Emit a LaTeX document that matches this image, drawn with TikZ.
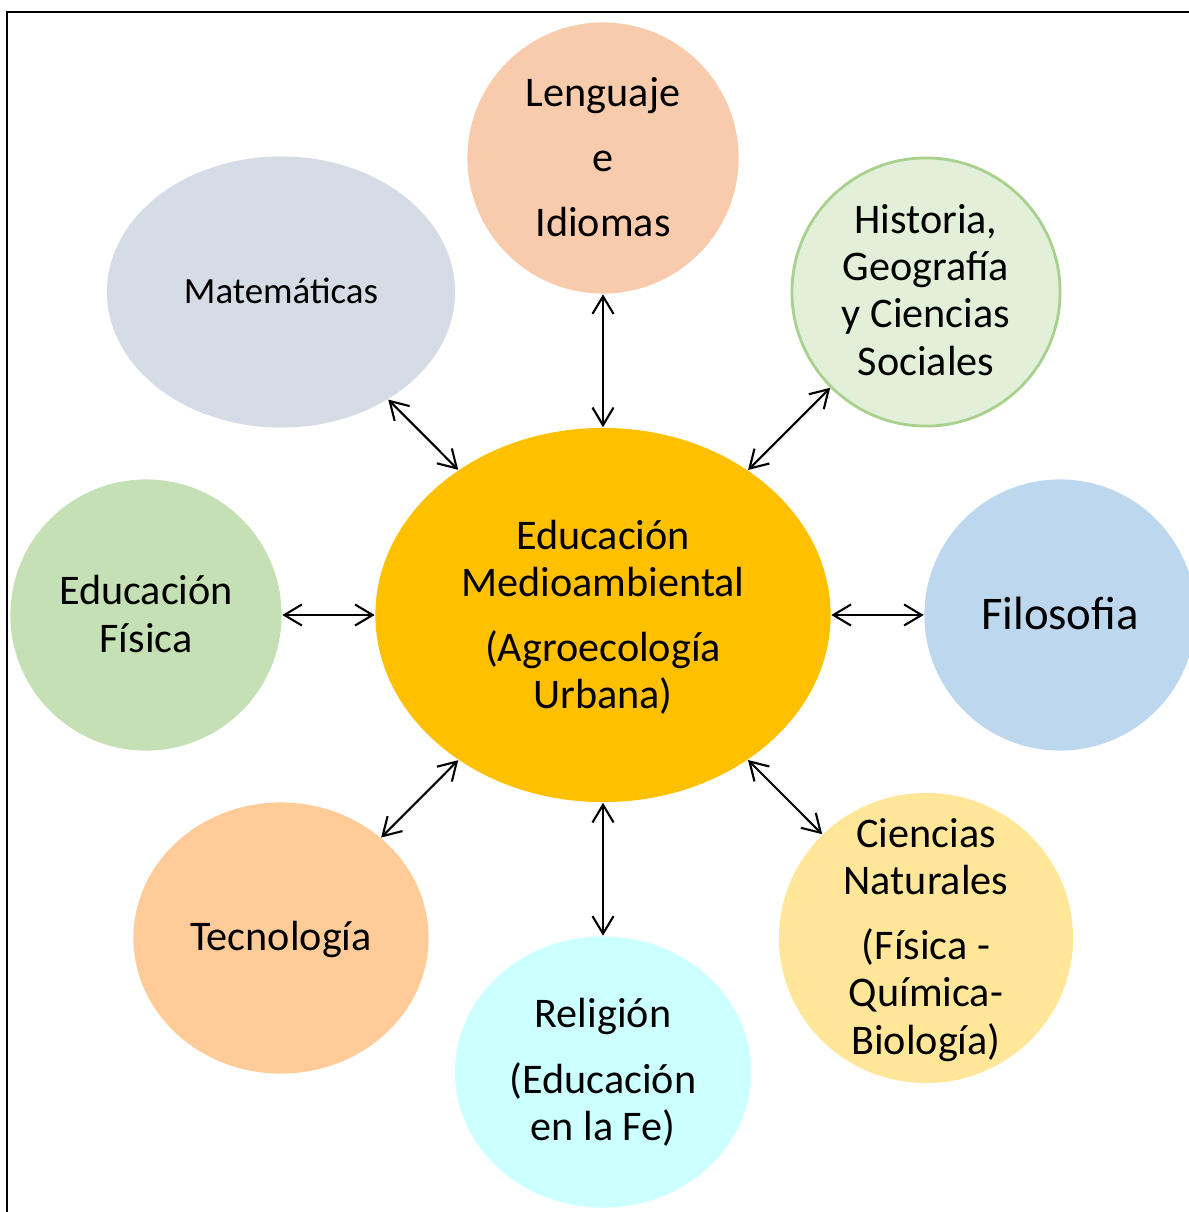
\documentclass[tikz,border=0pt]{standalone}
\usepackage{fontspec}
\setmainfont{Carlito}
\usetikzlibrary{shapes.geometric,arrows.meta}
\definecolor{cCenter}{HTML}{FFC000}
\definecolor{cLang}{HTML}{F8CBAD}
\definecolor{cMat}{HTML}{D6DCE5}
\definecolor{cHist}{HTML}{E2F0D9}
\definecolor{cHistB}{HTML}{A9D18E}
\definecolor{cEdF}{HTML}{C5E0B4}
\definecolor{cFil}{HTML}{BDD7EE}
\definecolor{cTec}{HTML}{FFCC99}
\definecolor{cRel}{HTML}{CCFFFF}
\definecolor{cCie}{HTML}{FFE699}
\begin{document}
\begin{tikzpicture}[x=0.01cm,y=-0.01cm,
  blob/.style={ellipse, draw=none, inner sep=0pt},
  lbl/.style={align=center, inner sep=0pt, text=black, font=\fontsize{12pt}{13.4pt}\selectfont},
  link/.style={{Straight Barb[length=5pt,width=6pt]}-{Straight Barb[length=5pt,width=6pt]}, line width=0.6pt, black}]
\useasboundingbox (0,0) rectangle (1189,1212);
\draw[line width=0.7pt] (7,12) rectangle (1210,1240);

\node[blob, fill=cCenter, minimum width=4.55cm, minimum height=3.74cm] (center) at (603,615) {};
\node[lbl] (centert) at (603,617) {Educación\\Medioambiental\\[5.1pt](Agroecología\\Urbana)};

\node[blob, fill=cLang, minimum width=2.71cm, minimum height=2.71cm] (lang) at (603,158) {};
\node[lbl] (langt) at (603,157) {Lenguaje\\[5.1pt]e\\[5.1pt]Idiomas};

\node[blob, fill=cMat, minimum width=3.48cm, minimum height=2.71cm] (mat) at (281,292) {};
\node[lbl, font=\fontsize{10.5pt}{12pt}\selectfont] (matt) at (281,291) {Matemáticas};

\node[blob, fill=cHist, draw=cHistB, line width=0.8pt, minimum width=2.68cm, minimum height=2.68cm] (hist) at (926,292) {};
\node[lbl] (histt) at (926,290) {Historia,\\Geografía\\y Ciencias\\Sociales};

\node[blob, fill=cEdF, minimum width=2.71cm, minimum height=2.71cm] (edf) at (146,615) {};
\node[lbl] (edft) at (146,614) {Educación\\Física};

\node[blob, fill=cFil, minimum width=2.71cm, minimum height=2.71cm] (fil) at (1060,615) {};
\node[lbl, font=\fontsize{13.3pt}{15pt}\selectfont] (filt) at (1060,613) {Filosofia};

\node[blob, fill=cTec, minimum width=2.95cm, minimum height=2.71cm] (tec) at (281,938) {};
\node[lbl] (tect) at (281,939) {Tecnología};

\node[blob, fill=cRel, minimum width=2.96cm, minimum height=2.71cm] (rel) at (603,1072) {};
\node[lbl] (relt) at (603,1072) {Religión\\[5.3pt](Educación\\en la Fe)};

\node[blob, fill=cCie, minimum width=2.94cm, minimum height=2.90cm] (cie) at (926,938) {};
\node[lbl] (ciet) at (926,940) {Ciencias\\Naturales\\[5.1pt](Física -\\Química-\\Biología)};

\draw[link] (lang) -- (center);
\draw[link] (mat) -- (center);
\draw[link] (hist) -- (center);
\draw[link] (edf) -- (center);
\draw[link] (fil) -- (center);
\draw[link] (tec) -- (center);
\draw[link] (rel) -- (center);
\draw[link] (cie) -- (center);
\end{tikzpicture}
\end{document}
